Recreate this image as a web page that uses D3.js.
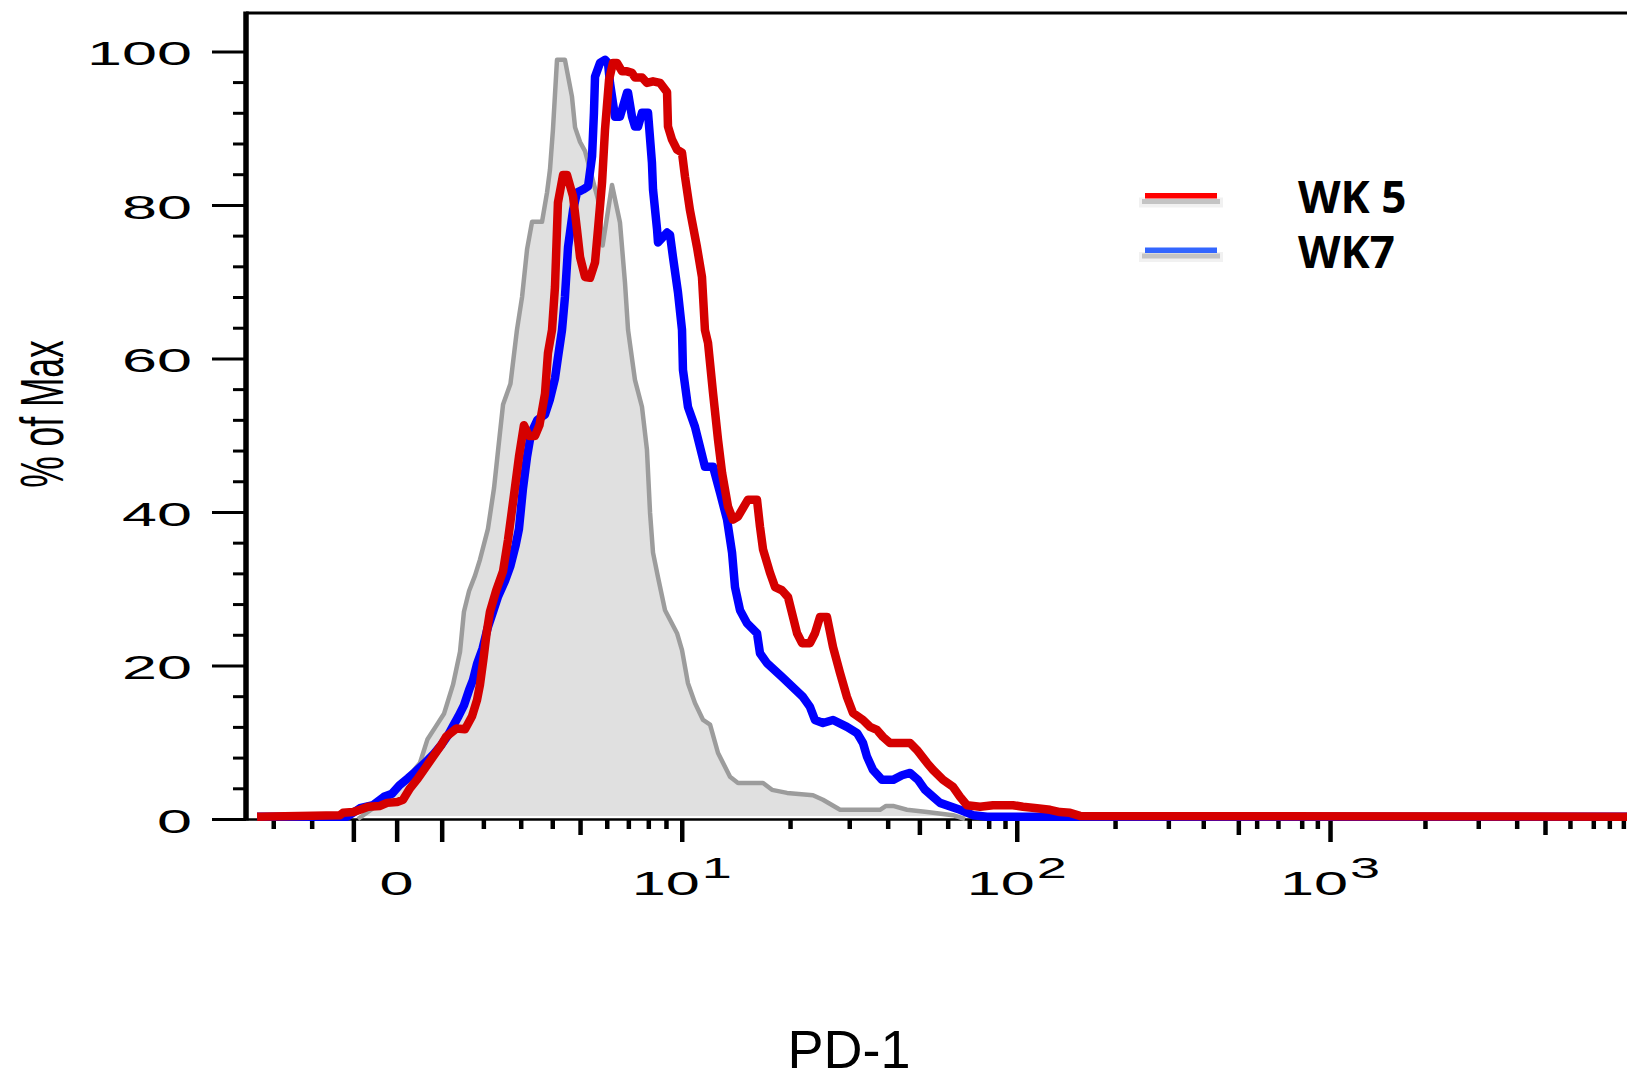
<!DOCTYPE html>
<html>
<head>
<meta charset="utf-8">
<script src="https://cdn.jsdelivr.net/npm/d3@7"></script>
<style>
  html, body { margin: 0; padding: 0; background: #ffffff; }
  svg { display: block; }
</style>
</head>
<body>
<svg id="chart" width="1627" height="1080"></svg>
<script>
// ---------------- DATA ----------------
// Histogram x positions are display channels (0-1024); y values are % of Max.
const yTickValues = [0, 20, 40, 60, 80, 100];
const yMinorStep = 4;

// X axis ticks: PD-1 value and the display channel where the tick sits
const xTickValues = [-3, -2, -1, 0, 1, 2, 3, 4, 5, 6, 7, 8, 9, 10,
  20, 30, 40, 50, 60, 70, 80, 90, 100,
  200, 300, 400, 500, 600, 700, 800, 900, 1000,
  2000, 3000, 4000, 5000, 6000, 7000, 8000, 9000];
const xTickChannels = [20.2, 48.7, 79.6, 111.7, 145.1, 176.0, 203.7, 227.1, 247.7, 267.5, 283.5, 298.3, 311.4, 323.1,
  403.4, 447.3, 475.8, 499.3, 520.3, 536.3, 550.7, 562.8, 571.5,
  644.4, 683.9, 709.8, 735.8, 749.4, 765.2, 782.8, 794.4, 803.8,
  874.2, 913.7, 942.2, 963.2, 981.7, 999.0, 1010.9, 1021.3];
const xMajorValues = [-1, 0, 1, 10, 100, 1000];
const xLabelValues = [0, 10, 100, 1000];
const xLabelBase = ["0", "10", "10", "10"];
const xLabelExp = ["", "1", "2", "3"];

const seriesNames = ["WK 5", "WK7"];

// Control (grey filled) histogram
const control = [[83.0,0],[109.7,3.3],[129.0,7.3],[134.6,10.4],[140.9,12.1],[146.8,13.7],[153.5,17.5],[158.7,21.8],
  [161.6,27.0],[165.4,29.7],[169.8,31.7],[173.5,33.8],[179.4,37.8],[183.9,43.1],[186.9,48.0],[190.6,54.0],[196.1,56.7],
  [200.9,63.7],[204.7,68.0],[208.4,74.2],[212.1,77.8],[219.5,77.8],[223.2,81.6],[225.4,84.6],[227.6,89.8],[230.6,98.9],
  [236.5,98.9],[241.7,94.1],[244.0,90.1],[247.7,88.2],[251.4,87.0],[261.0,80.7],[264.4,74.7],[271.4,82.6],[277.3,77.7],
  [281.0,69.9],[283.3,63.7],[288.4,57.2],[293.6,53.7],[297.3,48.1],[299.6,39.9],[301.8,34.7],[305.5,31.5],[310.7,27.2],
  [319.6,24.2],[323.3,22.0],[327.7,17.7],[332.9,15.1],[338.9,12.9],[344.1,12.3],[350.0,8.6],[358.9,5.5],[364.8,4.7],
  [383.4,4.7],[390.0,3.8],[401.2,3.4],[420.4,3.1],[427.8,2.5],[440.5,1.2],[470.1,1.2],[474.6,1.7],[479.8,1.7],
  [490.1,1.2],[505.0,0.9],[524.2,0.5],[533.1,0]];

// WK7 (blue)
const wk7 = [[8.2,0.3],[74.9,0.3],[84.5,1.4],[94.2,1.8],[102.3,2.9],[108.3,3.3],[113.8,4.4],[120.1,5.3],[125.3,6.1],
  [132.7,7.3],[139.4,8.5],[144.6,9.6],[149.8,10.9],[153.5,12.1],[157.6,13.4],[161.6,14.8],[165.4,16.8],[168.3,18.1],
  [171.3,20.2],[175.4,22.2],[179.2,24.9],[183.2,27.0],[186.9,29.0],[192.0,31.0],[196.1,33.0],[200.0,35.7],[202.4,37.8],
  [205.4,43.1],[208.4,47.2],[211.3,50.2],[216.1,52.0],[221.7,52.7],[225.4,54.7],[229.1,57.4],[231.3,60.1],[234.3,63.7],
  [236.5,68.0],[238.8,74.5],[242.5,79.3],[245.4,81.6],[249.9,82.0],[253.6,82.4],[256.6,86.3],[258.0,92.0],[258.8,96.7],
  [262.5,98.5],[266.2,98.9],[268.4,98.5],[269.9,95.9],[272.1,93.3],[273.6,91.5],[277.3,91.5],[282.5,94.6],[283.3,94.6],
  [286.2,91.5],[288.4,90.2],[290.7,90.2],[293.6,92.0],[298.1,92.0],[301.0,85.5],[301.8,82.0],[304.8,76.8],[305.5,75.1],
  [312.2,76.4],[314.4,76.1],[316.6,73.2],[320.3,68.6],[323.3,63.7],[324.0,58.5],[327.7,53.7],[332.9,51.1],[336.6,48.5],
  [340.3,45.9],[346.3,45.9],[351.5,42.5],[356.7,39.0],[360.4,34.7],[362.6,30.2],[366.3,27.2],[371.5,25.5],[378.9,24.2],
  [381.1,21.6],[386.3,20.3],[397.4,18.5],[413.0,15.9],[418.2,14.6],[421.9,12.9],[427.8,12.5],[435.3,12.9],[445.6,12.0],
  [453.1,11.2],[457.5,9.9],[460.5,8.1],[464.9,6.4],[471.6,5.1],[479.8,5.1],[486.4,5.7],[492.4,6.0],[498.3,5.1],
  [503.5,3.8],[509.4,2.9],[514.6,2.1],[529.4,1.2],[539.1,0.5],[549.5,0.3],[1024,0.3]];

// WK 5 (red)
const wk5 = [[8.2,0.3],[69.7,0.5],[71.9,0.8],[79.3,0.9],[84.5,1.2],[90.5,1.6],[99.4,1.7],[104.6,2.1],[112.0,2.2],
  [116.4,2.5],[121.6,4.0],[127.5,5.3],[132.7,6.6],[139.4,8.3],[144.6,9.6],[148.3,10.7],[156.1,11.8],[162.4,11.7],
  [167.6,13.4],[171.3,15.5],[173.5,17.5],[176.1,20.9],[178.4,24.2],[180.9,27.0],[185.4,29.7],[190.6,32.3],[194.3,36.4],
  [198.4,41.8],[202.4,47.2],[206.1,51.3],[209.8,49.9],[214.3,49.9],[217.6,51.3],[221.7,55.4],[223.9,60.7],[226.9,63.7],
  [229.1,69.3],[231.3,80.3],[235.1,83.9],[238.0,83.9],[242.5,81.1],[245.4,76.8],[247.7,73.2],[251.4,70.6],[255.1,70.5],
  [258.8,72.5],[261.0,76.8],[264.0,82.9],[266.2,89.8],[269.2,96.3],[272.1,98.5],[275.1,98.5],[278.8,97.4],[282.5,97.4],
  [286.2,97.2],[288.4,96.6],[293.6,96.6],[297.3,95.9],[301.8,96.1],[307.0,95.9],[312.2,94.7],[312.9,90.2],[315.9,88.5],
  [319.6,87.2],[323.3,86.8],[325.5,83.7],[329.2,79.3],[334.4,74.5],[338.1,70.6],[340.3,63.7],[342.6,62.0],[346.3,55.5],
  [350.0,49.4],[353.0,45.1],[357.4,40.7],[361.1,39.0],[364.8,39.4],[372.2,41.6],[378.9,41.6],[381.1,38.1],[383.4,35.1],
  [388.5,32.1],[392.3,30.2],[397.4,29.8],[401.9,28.9],[404.9,26.8],[408.6,24.2],[412.3,22.9],[418.2,22.9],[421.9,24.2],
  [425.6,26.3],[430.8,26.3],[435.3,22.4],[440.5,19.0],[445.6,15.9],[450.1,13.8],[457.5,12.9],[462.7,12.0],[467.9,11.6],
  [472.3,10.7],[477.5,9.9],[492.4,9.9],[497.5,9.0],[505.0,7.3],[509.4,6.4],[516.8,5.1],[524.2,4.2],[529.4,2.9],
  [534.6,1.8],[544.3,1.6],[553.9,1.8],[568.7,1.8],[576.1,1.6],[586.5,1.4],[596.2,1.2],[603.6,0.9],[611.0,0.8],
  [618.4,0.4],[1024,0.3]];

// ---------------- LAYOUT ----------------
const plotLeft = 246, plotRight = 1627, plotTop = 13, plotBottom = 819;
const svg = d3.select("#chart");

const x = d3.scaleLinear().domain([0, 1024]).range([plotLeft, plotRight]);
const y = d3.scaleLinear().domain([0, 105]).range([plotBottom, plotTop]);
const tickChannel = d3.scaleOrdinal().domain(xTickValues).range(xTickChannels);

const numFont = "'Liberation Sans', Arial, sans-serif";

// ---- frame lines ----
svg.append("line").attr("x1", plotLeft).attr("x2", plotRight)
  .attr("y1", plotTop).attr("y2", plotTop)
  .attr("stroke", "#000").attr("stroke-width", 3);
svg.append("line").attr("x1", plotLeft).attr("x2", plotRight)
  .attr("y1", plotBottom + 0.5).attr("y2", plotBottom + 0.5)
  .attr("stroke", "#000").attr("stroke-width", 2.5);

// ---- Y axis ticks ----
const yAxisG = svg.append("g").attr("transform", `translate(${plotLeft},0)`);
const yMinor = d3.range(0, 101, yMinorStep).filter(v => v % 20 !== 0);
yAxisG.append("g")
  .call(d3.axisLeft(y).tickValues(yMinor).tickSize(13).tickFormat(""))
  .call(g => g.select(".domain").remove())
  .call(g => g.selectAll(".tick line").attr("stroke", "#000").attr("stroke-width", 3));
yAxisG.append("g")
  .call(d3.axisLeft(y).tickValues(yTickValues).tickSize(34).tickFormat(""))
  .call(g => g.select(".domain").remove())
  .call(g => g.selectAll(".tick line").attr("stroke", "#000").attr("stroke-width", 3));

svg.append("g").selectAll("text").data(yTickValues).join("text")
  .attr("transform", d => `translate(192,${y(d) + 14}) scale(1.85,1)`)
  .attr("text-anchor", "end")
  .attr("font-family", numFont)
  .attr("font-size", 34)
  .attr("fill", "#000")
  .text(d => d);

// ---- X axis ticks ----
const kindOf = v => {
  if (xMajorValues.includes(v)) return "major";
  const a = Math.abs(v);
  const lead = a / Math.pow(10, Math.floor(Math.log10(a)));
  return Math.round(lead) === 5 ? "medium" : "minor";
};
const tickSizes = { major: 23, medium: 16, minor: 10 };
const xAxisG = svg.append("g").attr("transform", `translate(0,${plotBottom})`);
["minor", "medium", "major"].forEach(kind => {
  const vals = xTickValues.filter(v => kindOf(v) === kind).map(v => tickChannel(v));
  xAxisG.append("g")
    .call(d3.axisBottom(x).tickValues(vals).tickSize(tickSizes[kind]).tickFormat(""))
    .call(g => g.select(".domain").remove())
    .call(g => g.selectAll(".tick line").attr("stroke", "#000").attr("stroke-width", 4.5));
});

const xLabels = svg.append("g");
xLabelValues.forEach((v, i) => {
  const t = xLabels.append("text")
    .attr("transform", `translate(${x(tickChannel(v))},895) scale(1.8,1)`)
    .attr("text-anchor", "middle")
    .attr("font-family", numFont)
    .attr("font-size", 34)
    .attr("fill", "#000");
  t.append("tspan").text(xLabelBase[i]);
  if (xLabelExp[i]) {
    t.append("tspan").attr("font-size", 30).attr("dy", -17).attr("dx", 1).text(xLabelExp[i]);
  }
});

// ---- axis titles ----
svg.append("text")
  .attr("transform", "translate(63,414) rotate(-90) scale(0.58,1)")
  .attr("text-anchor", "middle")
  .attr("font-family", numFont)
  .attr("font-size", 61)
  .attr("fill", "#000")
  .text("% of Max");

svg.append("text")
  .attr("x", 849).attr("y", 1068)
  .attr("text-anchor", "middle")
  .attr("font-family", numFont)
  .attr("font-size", 54)
  .attr("fill", "#000")
  .text("PD-1");

// ---- histograms ----
const plot = svg.append("g");
const area = d3.area().x(d => x(d[0])).y0(y(0.4)).y1(d => y(d[1]));
const line = d3.line().x(d => x(d[0])).y(d => y(d[1]));

plot.append("path").datum(control)
  .attr("d", area).attr("fill", "#e0e0e0").attr("stroke", "none");
plot.append("path").datum(control)
  .attr("d", line).attr("fill", "none").attr("stroke", "#9c9c9c")
  .attr("stroke-width", 4.5).attr("stroke-linejoin", "round");

plot.append("path").datum(wk7)
  .attr("d", line).attr("fill", "none").attr("stroke", "#0000ff")
  .attr("stroke-width", 8.5).attr("stroke-linejoin", "round");
plot.append("path").datum(wk5)
  .attr("d", line).attr("fill", "none").attr("stroke", "#d50000")
  .attr("stroke-width", 8.5).attr("stroke-linejoin", "round");

// Y axis line on top
svg.append("line").attr("x1", plotLeft).attr("x2", plotLeft)
  .attr("y1", plotTop - 1.5).attr("y2", plotBottom + 1.5)
  .attr("stroke", "#000").attr("stroke-width", 5.5);

// ---- legend ----
const legendColors = ["#ff0000", "#3366ff"];
const legend = svg.append("g").attr("transform", "translate(1145,195.5)");
const items = legend.selectAll("g").data(seriesNames).join("g")
  .attr("transform", (d, i) => `translate(0,${i * 54.5})`);
items.append("rect").attr("x", -6).attr("y", 2).attr("width", 84).attr("height", 10)
  .attr("fill", "#f1f1f1");
items.append("rect").attr("x", -3).attr("y", 3.5).attr("width", 78).attr("height", 5)
  .attr("fill", "#c4c4c4");
items.append("rect").attr("x", 0).attr("y", -2.5).attr("width", 72).attr("height", 5.5)
  .attr("fill", (d, i) => legendColors[i]);
items.append("text")
  .attr("x", 153).attr("y", 17.5)
  .attr("font-family", "'Open Sans', sans-serif")
  .attr("font-weight", 700)
  .attr("font-size", 44)
  .attr("fill", "#000")
  .text(d => d);
</script>
</body>
</html>
